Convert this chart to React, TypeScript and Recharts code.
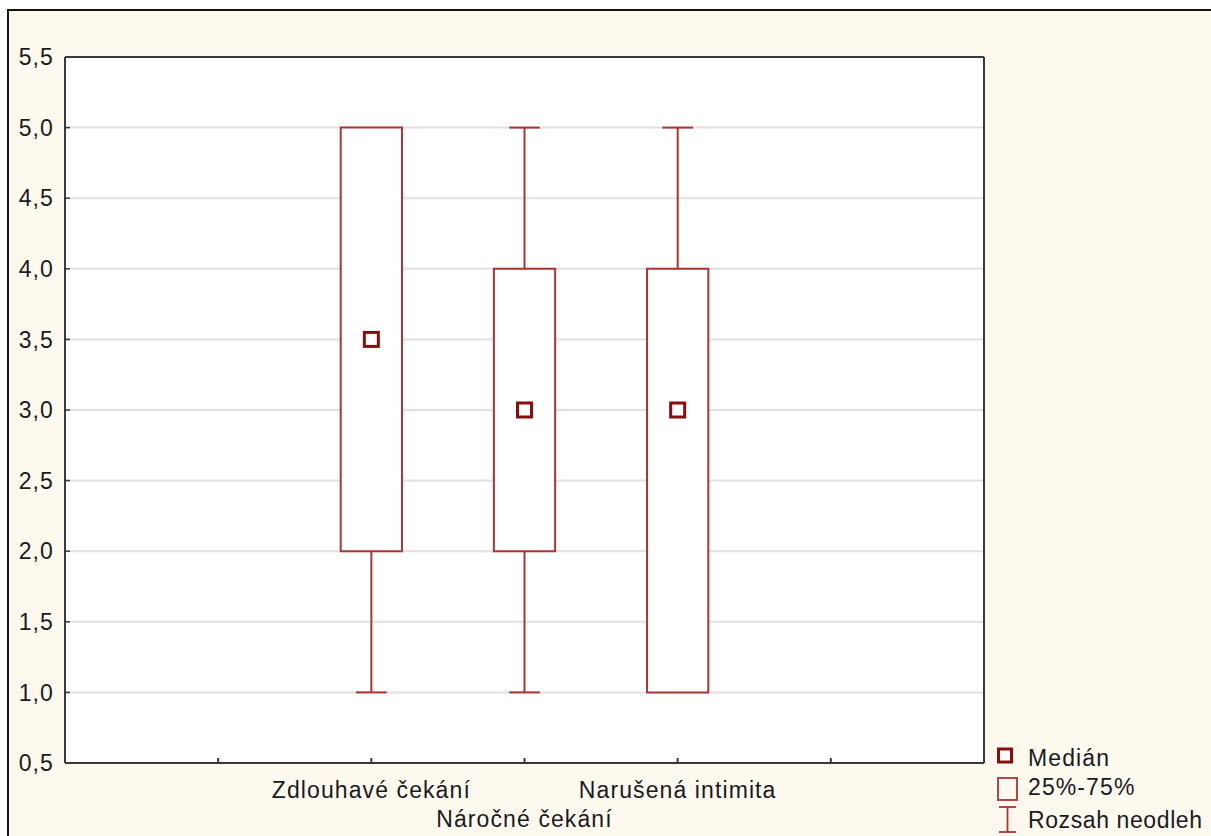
import React from 'react';
import {
  ComposedChart,
  XAxis,
  YAxis,
  CartesianGrid,
  ReferenceArea,
  ReferenceLine,
  Scatter,
  Legend,
} from 'recharts';

// ---- data ----
const categories = ['Zdlouhavé čekání', 'Náročné čekání', 'Narušená intimita'];
const positions = [2, 3, 4];
const medians = [3.5, 3.0, 3.0];
const q1 = [2.0, 2.0, 1.0];
const q3 = [5.0, 4.0, 4.0];
const mins = [1.0, 1.0, 1.0];
const maxs = [5.0, 5.0, 5.0];
const yTicks = [0.5, 1.0, 1.5, 2.0, 2.5, 3.0, 3.5, 4.0, 4.5, 5.0, 5.5];
const xTicks = [1, 2, 3, 4, 5];
const legendLabels = ['Medián', '25%-75%', 'Rozsah neodleh'];

const BOX_HALF = 0.2;
const CAP_HALF = 0.1;

const FONT = '"Liberation Sans", Arial, sans-serif';
const FS = 23;
const LS = 1.1;
const TEXT = '#1a1a22';
const BOX = '#A93535';
const MED = '#8A0C0C';
const AXIS = '#3a3a3a';
const BG = '#FEF9EE';

const medianData = positions.map((p, i) => ({ x: p, y: medians[i] }));

const fmtY = (v: number) => v.toFixed(1).replace('.', ',');

const XTick = (props: any) => {
  const { x, y, payload } = props;
  const idx = positions.indexOf(payload.value);
  if (idx < 0) return null;
  const lower = idx % 2 === 1;
  return (
    <text
      x={x}
      y={y + (lower ? 64 : 35)}
      textAnchor="middle"
      fontFamily={FONT}
      fontSize={FS}
      letterSpacing={LS}
      fill={TEXT}
    >
      {categories[idx]}
    </text>
  );
};

const MedianShape = (props: any) => {
  const { cx, cy } = props;
  return (
    <rect x={cx - 7} y={cy - 7} width={14} height={14} fill="#fff" stroke={MED} strokeWidth={3} />
  );
};

const LegendContent = () => (
  <svg width={230} height={92} style={{ overflow: 'visible', display: 'block' }}>
    <rect x={4.5} y={3} width={13} height={13} fill="#fff" stroke={MED} strokeWidth={3} />
    <text x={34} y={20} fontFamily={FONT} fontSize={FS} letterSpacing={LS} fill={TEXT}>
      {legendLabels[0]}
    </text>
    <rect x={4} y={32} width={19} height={22} fill="none" stroke={BOX} strokeWidth={1.8} />
    <text x={34} y={49} fontFamily={FONT} fontSize={FS} letterSpacing={LS} fill={TEXT}>
      {legendLabels[1]}
    </text>
    <line x1={13.5} y1={61} x2={13.5} y2={86} stroke={BOX} strokeWidth={1.8} />
    <line x1={5} y1={61} x2={22} y2={61} stroke={BOX} strokeWidth={1.8} />
    <line x1={5} y1={86} x2={22} y2={86} stroke={BOX} strokeWidth={1.8} />
    <text x={34} y={82} fontFamily={FONT} fontSize={FS} letterSpacing={0.6} fill={TEXT}>
      {legendLabels[2]}
    </text>
  </svg>
);

export default function App() {
  return (
    <div
      style={{
        position: 'fixed',
        left: 7,
        top: 9,
        width: 1204,
        height: 827,
        boxSizing: 'border-box',
        borderTop: '2px solid #151515',
        borderLeft: '2px solid #151515',
        background: BG,
        overflow: 'hidden',
        whiteSpace: 'nowrap',
      }}
    >
      <ComposedChart
        width={1202}
        height={825}
        data={medianData}
        margin={{ top: 45, right: 226, bottom: 33, left: 0 }}
      >
        <CartesianGrid vertical={false} stroke="#e0e0e0" strokeWidth={2} fill="#ffffff" fillOpacity={1} />
        <XAxis
          xAxisId={0}
          dataKey="x"
          type="number"
          domain={[0, 6]}
          ticks={xTicks}
          interval={0}
          allowDataOverflow
          height={40}
          tickSize={-5}
          tickMargin={5}
          tickLine={{ stroke: AXIS, strokeWidth: 2 }}
          axisLine={{ stroke: AXIS, strokeWidth: 2 }}
          tick={<XTick />}
        />
        <XAxis
          xAxisId="top"
          dataKey="x"
          orientation="top"
          type="number"
          domain={[0, 6]}
          allowDataOverflow
          height={1}
          tick={false}
          tickLine={false}
          axisLine={{ stroke: AXIS, strokeWidth: 2 }}
        />
        <YAxis
          yAxisId={0}
          type="number"
          domain={[0.5, 5.5]}
          ticks={yTicks}
          interval={0}
          allowDataOverflow
          width={56}
          tickSize={-5}
          tickMargin={16}
          tickFormatter={fmtY}
          tickLine={{ stroke: AXIS, strokeWidth: 1.5 }}
          axisLine={{ stroke: AXIS, strokeWidth: 2 }}
          tick={{ fontFamily: FONT, fontSize: FS, fill: TEXT, letterSpacing: LS }}
        />
        <YAxis
          yAxisId="right"
          orientation="right"
          type="number"
          domain={[0.5, 5.5]}
          ticks={yTicks}
          interval={0}
          allowDataOverflow
          width={1}
          tickSize={-5}
          tick={false}
          tickLine={{ stroke: AXIS, strokeWidth: 1.5 }}
          axisLine={{ stroke: AXIS, strokeWidth: 2 }}
        />

        {positions.map((p, i) =>
          mins[i] < q1[i] ? (
            <ReferenceLine
              key={`lw${i}`}
              segment={[{ x: p, y: mins[i] }, { x: p, y: q1[i] }]}
              stroke={BOX}
              strokeWidth={2}
            />
          ) : null
        )}
        {positions.map((p, i) =>
          mins[i] < q1[i] ? (
            <ReferenceLine
              key={`lc${i}`}
              segment={[{ x: p - CAP_HALF, y: mins[i] }, { x: p + CAP_HALF, y: mins[i] }]}
              stroke={BOX}
              strokeWidth={2}
            />
          ) : null
        )}
        {positions.map((p, i) =>
          maxs[i] > q3[i] ? (
            <ReferenceLine
              key={`uw${i}`}
              segment={[{ x: p, y: q3[i] }, { x: p, y: maxs[i] }]}
              stroke={BOX}
              strokeWidth={2}
            />
          ) : null
        )}
        {positions.map((p, i) =>
          maxs[i] > q3[i] ? (
            <ReferenceLine
              key={`uc${i}`}
              segment={[{ x: p - CAP_HALF, y: maxs[i] }, { x: p + CAP_HALF, y: maxs[i] }]}
              stroke={BOX}
              strokeWidth={2}
            />
          ) : null
        )}
        {positions.map((p, i) => (
          <ReferenceArea
            key={`box${i}`}
            x1={p - BOX_HALF}
            x2={p + BOX_HALF}
            y1={q1[i]}
            y2={q3[i]}
            fill="#ffffff"
            fillOpacity={1}
            stroke={BOX}
            strokeWidth={2}
          />
        ))}
        <Scatter dataKey="y" shape={<MedianShape />} isAnimationActive={false} legendType="none" />
        <Legend
          layout="horizontal"
          align="center"
          verticalAlign="middle"
          content={<LegendContent />}
          wrapperStyle={{ position: 'absolute', left: 985, top: 735, width: 210, height: 92 }}
        />
      </ComposedChart>
    </div>
  );
}
